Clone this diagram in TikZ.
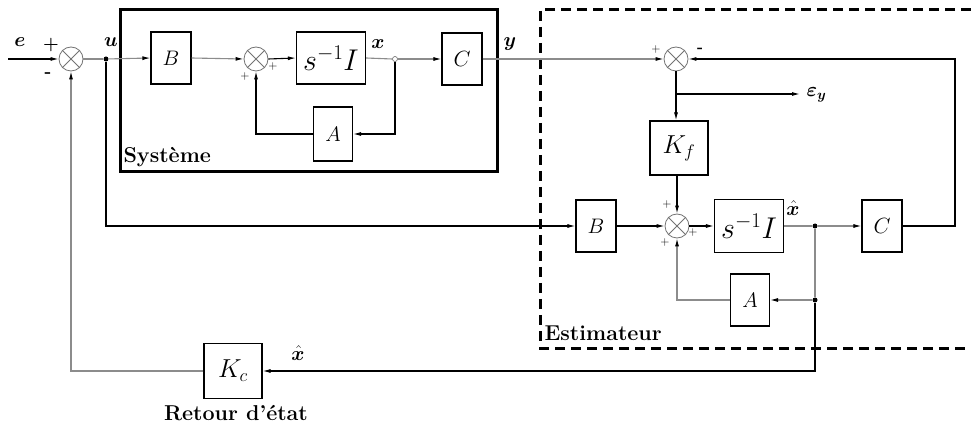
\RequirePackage{fix-cm}
\documentclass[tikz,border=0pt]{standalone}
\usepackage{fontspec}
\usepackage{amsmath}
\usepackage{bm}
\usetikzlibrary{arrows.meta,calc}
\begin{document}
\begin{tikzpicture}[x=1pt,y=-1pt,
  line width=1.1pt,
  lin/.style={draw=black},
  glin/.style={draw=black!45},
  arr/.style={-{Latex[length=8pt,width=4pt,color=black]}},
  blk/.style={draw,line width=1.2pt,minimum width=40pt,minimum height=52pt,inner sep=0pt,font=\fontsize{21}{24}\selectfont},
  sumn/.style={circle,draw=black!55,line width=0.8pt,minimum size=24pt,inner sep=0pt},
  fdot/.style={circle,fill=black,minimum size=5pt,inner sep=0pt},
  odot/.style={circle,draw=black!60,line width=0.6pt,minimum size=5pt,inner sep=0pt},
  sig/.style={font=\fontsize{20}{22}\selectfont,inner sep=0pt},
  pm/.style={font=\fontsize{12}{14}\selectfont,inner sep=0pt},
  ttl/.style={font=\fontsize{21.5}{24}\selectfont\bfseries,inner sep=0pt}
]
\useasboundingbox (0,0) rectangle (971,427);
\fill[white] (0,0) rectangle (971,427);

% frames
\draw[line width=3pt] (120,10) rectangle (497,172);
\draw[line width=3pt,dash pattern=on 10pt off 6pt] (971,10) -- (540,10) -- (540,348) -- (971,348);

% system
\coordinate (ein) at (8,59);
\node[sumn] (s1) at (71,59) {};
\node[fdot] (u) at (106,59) {};
\node[blk] (B1) at (171,58) {$B$};
\node[sumn] (s2) at (256,59) {};
\node[blk,minimum width=69pt,font=\fontsize{30}{34}\selectfont] (S1) at (331,58) {$s^{-1}I$};
\node[odot] (xj) at (395,59) {};
\node[blk,font=\fontsize{22}{26}\selectfont] (C1) at (462,59) {$C$};
\node[blk,minimum width=39pt,minimum height=54pt] (A1) at (333,134) {$A$};

% estimator
\node[sumn] (s3) at (676,59) {};
\node[blk,minimum width=58pt,minimum height=54pt,font=\fontsize{26}{30}\selectfont] (Kf) at (679,148) {$K_f$};
\coordinate (ey) at (800,94);
\node[blk] (B2) at (596,226) {$B$};
\node[sumn] (s4) at (677,226) {};
\node[blk,minimum width=69pt,minimum height=53pt,font=\fontsize{30}{34}\selectfont] (S2) at (749,226) {$s^{-1}I$};
\node[fdot] (xh) at (815,226) {};
\node[blk,font=\fontsize{22}{26}\selectfont] (C2) at (882,226) {$C$};
\node[blk,minimum width=39pt] (A2) at (750,300) {$A$};
\node[fdot] (xh2) at (815,300) {};
\coordinate (ret) at (955,226);
\node[blk,minimum width=58pt,minimum height=55pt,font=\fontsize{26}{30}\selectfont] (Kc) at (233,371) {$K_c$};

% crosses in summing junctions
\foreach \s in {s1,s2,s3,s4}{
  \draw[black!55,line width=0.8pt] (\s.north west) -- (\s.south east) (\s.north east) -- (\s.south west);
}

% connectors
\draw[lin,arr] (ein) -- (s1.west);
\draw[glin] (s1.east) -- (u);
\draw[glin,arr] (u) -- (B1.west);
\draw[glin,arr] (B1.east) -- (s2.west);
\draw[lin,arr] (s2.east) -- (S1.west);
\draw[glin] (S1.east) -- (xj.west);
\draw[glin,arr] (xj.east) -- (C1.west);
\draw[lin,arr] (xj.south) |- (A1.east);
\draw[lin,arr] (A1.west) -| (s2.south);
\draw[glin,arr] (C1.east) -- (s3.west);
\draw[lin,arr] (s3.south) -- (s3.south |- Kf.north);
\draw[lin,arr] (s3.south |- ey) -- (ey);
\draw[lin,arr] (Kf.south -| s4.north) -- (s4.north);
\draw[lin,arr] (u) |- (B2.west);
\draw[lin,arr] (B2.east) -- (s4.west);
\draw[lin,arr] (s4.east) -- (S2.west);
\draw[glin] (S2.east) -- (xh);
\draw[glin,arr] (xh) -- (C2.west);
\draw[lin,arr] (C2.east) -- (ret) |- (s3.east);
\draw[glin] (xh) -- (xh2);
\draw[glin,arr] (xh2) -- (A2.east);
\draw[glin,arr] (A2.west) -| (s4.south);
\draw[lin,arr] (xh2) |- (Kc.east);
\draw[glin,arr] (Kc.west) -| (s1.south);

% signal labels
\node[sig] at (20,42) {$\bm{e}$};
\node[sig] at (111,42) {$\bm{u}$};
\node[sig] at (378,44) {$\bm{x}$};
\node[sig] at (510,44) {$\bm{y}$};
\node[sig,anchor=west] at (806,95) {$\bm{\varepsilon}_{\bm{y}}$};
\node[sig] at (793,208) {$\bm{\hat{x}}$};
\node[sig] at (298,353) {$\bm{\hat{x}}$};

% signs
\node[font=\fontsize{18}{20}\selectfont\bfseries,inner sep=0pt] at (51,45) {+};
\node[font=\fontsize{18}{20}\selectfont\bfseries,inner sep=0pt] at (48,75) {-};
\node[pm] at (273,67) {+};
\node[pm] at (245,77) {+};
\node[pm] at (656,50) {+};
\node[font=\fontsize{16}{18}\selectfont\bfseries,inner sep=0pt] at (700,50) {-};
\node[pm] at (667,205) {+};
\node[pm] at (665,243) {+};
\node[pm] at (693,233) {+};

% titles
\node[ttl,anchor=west] at (123,157) {Système};
\node[ttl,anchor=west] at (544,333) {Estimateur};
\node[ttl] at (236,413) {Retour d'état};
\end{tikzpicture}
\end{document}
